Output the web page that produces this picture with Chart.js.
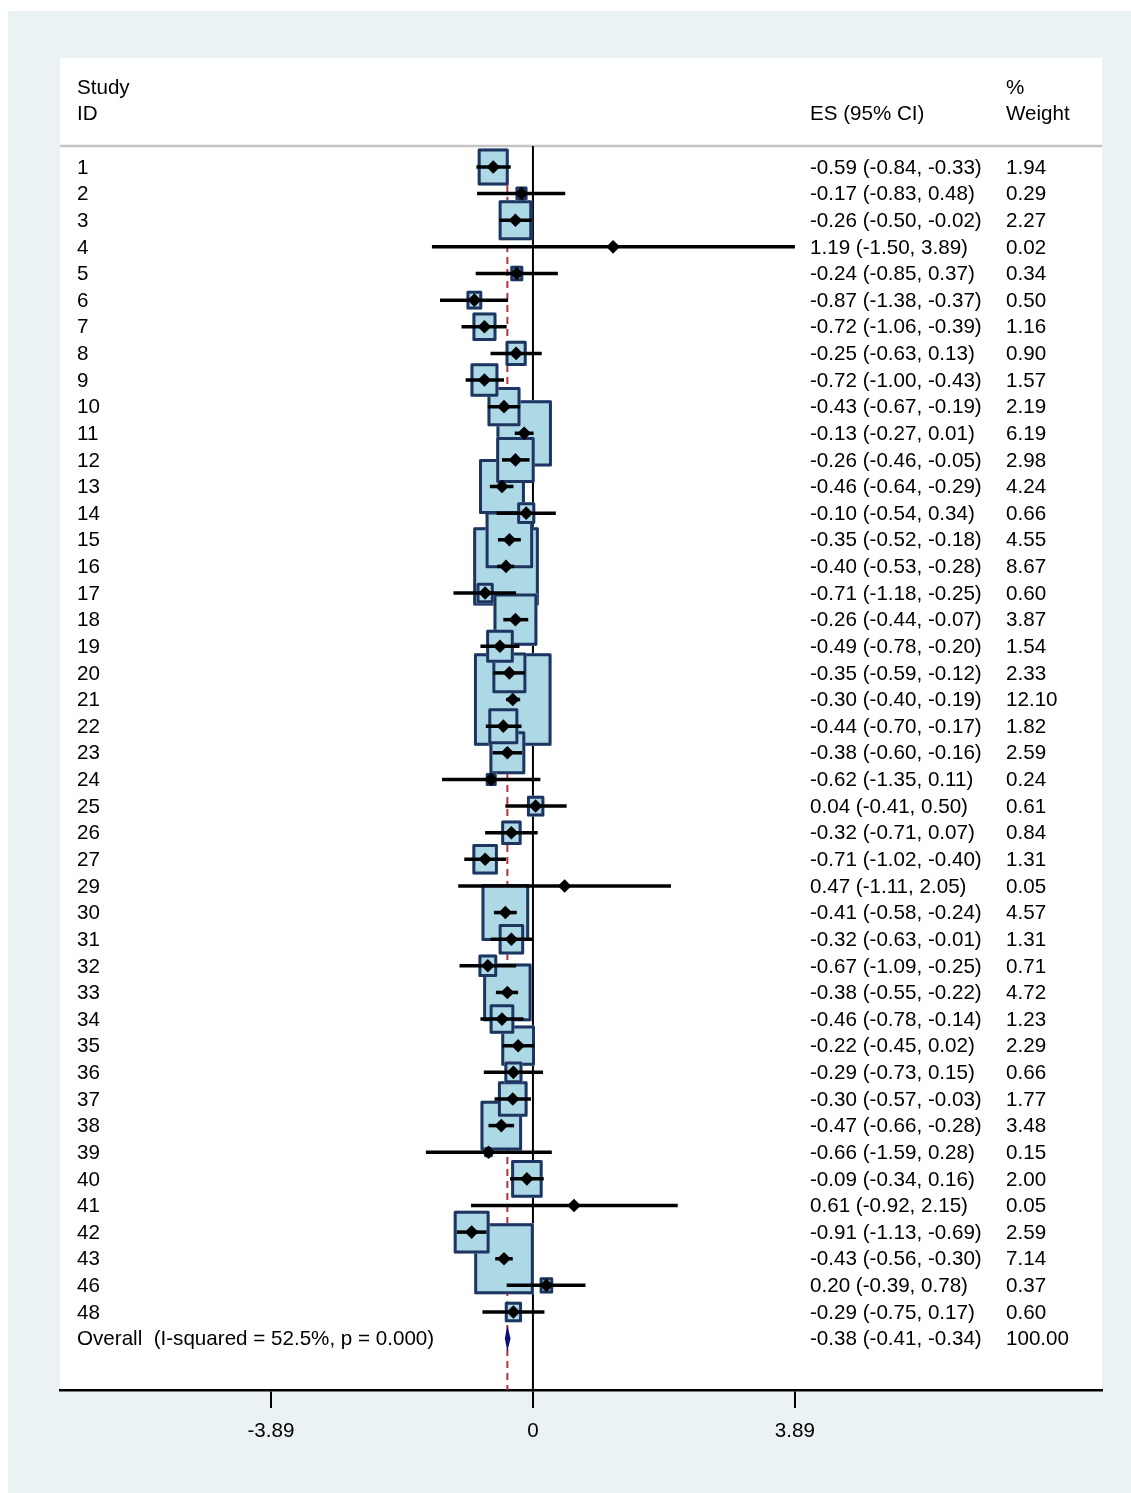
<!DOCTYPE html>
<html>
<head>
<meta charset="utf-8">
<script src="https://cdn.jsdelivr.net/npm/chart.js@4.4.1/dist/chart.umd.min.js"></script>
<style>
  html, body { margin: 0; padding: 0; background: #ffffff; }
  canvas { display: block; }
</style>
</head>
<body>
<canvas id="forest" width="1131" height="1493"></canvas>
<script>
// study rows, top to bottom
const studyIds = ["1","2","3","4","5","6","7","8","9","10","11","12","13","14","15","16","17","18","19","20",
  "21","22","23","24","25","26","27","29","30","31","32","33","34","35","36","37","38","39","40","41","42","43","46","48"];
const effect = [-0.59,-0.17,-0.26,1.19,-0.24,-0.87,-0.72,-0.25,-0.72,-0.43,-0.13,-0.26,-0.46,-0.10,-0.35,-0.40,-0.71,-0.26,-0.49,-0.35,
  -0.30,-0.44,-0.38,-0.62,0.04,-0.32,-0.71,0.47,-0.41,-0.32,-0.67,-0.38,-0.46,-0.22,-0.29,-0.30,-0.47,-0.66,-0.09,0.61,-0.91,-0.43,0.20,-0.29];
const lower = [-0.84,-0.83,-0.50,-1.50,-0.85,-1.38,-1.06,-0.63,-1.00,-0.67,-0.27,-0.46,-0.64,-0.54,-0.52,-0.53,-1.18,-0.44,-0.78,-0.59,
  -0.40,-0.70,-0.60,-1.35,-0.41,-0.71,-1.02,-1.11,-0.58,-0.63,-1.09,-0.55,-0.78,-0.45,-0.73,-0.57,-0.66,-1.59,-0.34,-0.92,-1.13,-0.56,-0.39,-0.75];
const upper = [-0.33,0.48,-0.02,3.89,0.37,-0.37,-0.39,0.13,-0.43,-0.19,0.01,-0.05,-0.29,0.34,-0.18,-0.28,-0.25,-0.07,-0.20,-0.12,
  -0.19,-0.17,-0.16,0.11,0.50,0.07,-0.40,2.05,-0.24,-0.01,-0.25,-0.22,-0.14,0.02,0.15,-0.03,-0.28,0.28,0.16,2.15,-0.69,-0.30,0.78,0.17];
const weight = [1.94,0.29,2.27,0.02,0.34,0.50,1.16,0.90,1.57,2.19,6.19,2.98,4.24,0.66,4.55,8.67,0.60,3.87,1.54,2.33,
  12.10,1.82,2.59,0.24,0.61,0.84,1.31,0.05,4.57,1.31,0.71,4.72,1.23,2.29,0.66,1.77,3.48,0.15,2.00,0.05,2.59,7.14,0.37,0.60];

// pooled estimate
const overallLabel = "Overall  (I-squared = 52.5%, p = 0.000)";
const overallES = -0.38;
const overallLo = -0.41;
const overallHi = -0.34;
const overallWeight = 100.00;

const xTicks = [-3.89, 0, 3.89];

const FONT = '20.6px "Liberation Sans", Arial, sans-serif';

function ciText(es, lo, hi) {
  return es.toFixed(2) + " (" + lo.toFixed(2) + ", " + hi.toFixed(2) + ")";
}

// draws the panel, boxes, CI lines, reference lines and text columns
const forestPlugin = {
  id: "forest",
  beforeDraw(chart) {
    const ctx = chart.ctx;
    const a = chart.chartArea;
    ctx.save();
    ctx.fillStyle = "#ffffff";
    ctx.fillRect(0, 0, chart.width, chart.height);
    ctx.fillStyle = "#eaf2f3";
    ctx.fillRect(8, 11, chart.width - 8, chart.height - 11);
    ctx.fillStyle = "#ffffff";
    ctx.fillRect(a.left, a.top, a.right - a.left, a.bottom - a.top);
    ctx.restore();
  },
  beforeDatasetsDraw(chart) {
    const ctx = chart.ctx;
    const a = chart.chartArea;
    const xs = chart.scales.x;
    const ys = chart.scales.y;
    const sepY = ys.getPixelForValue(-0.79);
    const rowH = ys.getPixelForValue(1) - ys.getPixelForValue(0);
    ctx.save();

    // header separator
    ctx.strokeStyle = "#c4c4c4";
    ctx.lineWidth = 2.5;
    ctx.beginPath();
    ctx.moveTo(a.left, sepY);
    ctx.lineTo(a.right, sepY);
    ctx.stroke();

    // no-effect line
    ctx.strokeStyle = "#000000";
    ctx.lineWidth = 2;
    ctx.beginPath();
    ctx.moveTo(xs.getPixelForValue(0), sepY);
    ctx.lineTo(xs.getPixelForValue(0), a.bottom);
    ctx.stroke();

    // overall effect line
    ctx.strokeStyle = "#b03340";
    ctx.setLineDash([7, 5]);
    ctx.beginPath();
    ctx.moveTo(xs.getPixelForValue(overallES), sepY + 3);
    ctx.lineTo(xs.getPixelForValue(overallES), a.bottom);
    ctx.stroke();
    ctx.setLineDash([]);

    // weight boxes, biggest first
    const order = weight.map((w, i) => i).sort((p, q) => weight[q] - weight[p]);
    ctx.lineJoin = "round";
    ctx.lineWidth = 3;
    ctx.strokeStyle = "#1f3561";
    ctx.fillStyle = "#add8e6";
    order.forEach((i) => {
      const s = Math.sqrt(weight[i]);
      const w = 22.3 * s;
      const h = rowH * s;
      if (w < 4) return;
      const cx = xs.getPixelForValue(effect[i]);
      const cy = ys.getPixelForValue(i);
      ctx.fillRect(cx - w / 2, cy - h / 2, w, h);
      ctx.strokeRect(cx - w / 2 + 1.5, cy - h / 2 + 1.5, w - 3, h - 3);
    });

    // confidence intervals
    ctx.strokeStyle = "#000000";
    ctx.lineWidth = 3.5;
    ctx.lineCap = "butt";
    for (let i = 0; i < effect.length; i++) {
      const cy = ys.getPixelForValue(i);
      ctx.beginPath();
      ctx.moveTo(xs.getPixelForValue(lower[i]), cy);
      ctx.lineTo(xs.getPixelForValue(upper[i]), cy);
      ctx.stroke();
    }

    // pooled diamond
    const oy = ys.getPixelForValue(studyIds.length);
    ctx.fillStyle = "#0b0f7a";
    ctx.beginPath();
    ctx.moveTo(xs.getPixelForValue(overallLo) - 0.5, oy);
    ctx.lineTo(xs.getPixelForValue(overallES), oy - 13);
    ctx.lineTo(xs.getPixelForValue(overallHi) + 0.5, oy);
    ctx.lineTo(xs.getPixelForValue(overallES), oy + 13);
    ctx.closePath();
    ctx.fill();
    ctx.restore();
  },
  afterDatasetsDraw(chart) {
    const ctx = chart.ctx;
    const ys = chart.scales.y;
    const rowY = (v) => ys.getPixelForValue(v) + 1;
    ctx.save();
    ctx.font = FONT;
    ctx.fillStyle = "#000000";
    ctx.textAlign = "left";
    ctx.textBaseline = "middle";

    ctx.fillText("Study", 77, rowY(-3));
    ctx.fillText("ID", 77, rowY(-2));
    ctx.fillText("ES (95% CI)", 810, rowY(-2));
    ctx.fillText("%", 1006, rowY(-3));
    ctx.fillText("Weight", 1006, rowY(-2));

    for (let i = 0; i < studyIds.length; i++) {
      const y = rowY(i);
      ctx.fillText(studyIds[i], 77, y);
      ctx.fillText(ciText(effect[i], lower[i], upper[i]), 810, y);
      ctx.fillText(weight[i].toFixed(2), 1006, y);
    }
    const oy = rowY(studyIds.length);
    ctx.fillText(overallLabel, 77, oy);
    ctx.fillText(ciText(overallES, overallLo, overallHi), 810, oy);
    ctx.fillText(overallWeight.toFixed(2), 1006, oy);
    ctx.restore();
  }
};

const ctx = document.getElementById("forest").getContext("2d");
const forestChart = new Chart(ctx, {
  type: "scatter",
  data: {
    datasets: [
      {
        data: effect.map((es, i) => ({ x: es, y: i })),
        pointStyle: "rectRot",
        pointRadius: 6.8,
        pointHoverRadius: 6.8,
        backgroundColor: "#000000",
        borderWidth: 0,
      },
    ],
  },
  options: {
    responsive: false,
    animation: false,
    devicePixelRatio: 1,
    layout: { padding: { left: 60, right: 29, top: 58, bottom: 0 } },
    plugins: { legend: { display: false }, tooltip: { enabled: false } },
    scales: {
      x: {
        type: "linear",
        position: "bottom",
        min: -7.023,
        max: 8.45,
        afterFit: (scale) => { scale.height = 103; },
        afterBuildTicks: (scale) => { scale.ticks = xTicks.map((v) => ({ value: v })); },
        ticks: {
          color: "#000000",
          font: { family: '"Liberation Sans", Arial, sans-serif', size: 20.6 },
          padding: 11,
          callback: (v) => (v === 0 ? "0" : Number(v).toFixed(2)),
        },
        grid: { drawOnChartArea: false, drawTicks: true, tickLength: 18, color: "#000000", lineWidth: 2 },
        border: { display: true, color: "#000000", width: 2.5 },
      },
      y: {
        type: "linear",
        display: false,
        reverse: true,
        min: -4.093,
        max: 45.93,
      },
    },
  },
  plugins: [forestPlugin],
});
</script>
</body>
</html>
